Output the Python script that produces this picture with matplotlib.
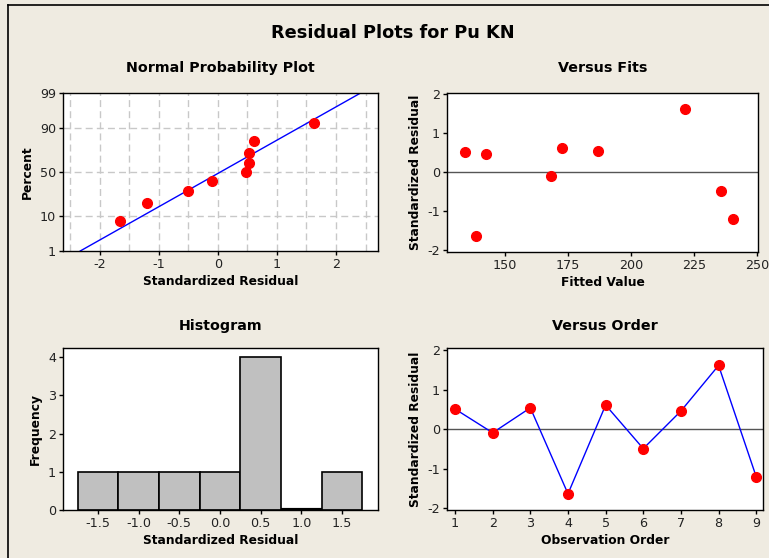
from statistics import NormalDist
import numpy as np
import matplotlib.pyplot as plt
from matplotlib.lines import Line2D

order = [1, 2, 3, 4, 5, 6, 7, 8, 9]
residuals = [0.51, -0.09, 0.54, -1.63, 0.61, -0.49, 0.46, 1.61, -1.20]
fitted = [134.2, 168.4, 187.0, 138.4, 172.6, 235.7, 142.7, 221.3, 240.4]

# normal probability plot: sorted residuals and their plotted percent
npp_resid = [-1.65, -1.20, -0.50, -0.09, 0.48, 0.52, 0.53, 0.62, 1.63]
npp_percent = [7.4, 18.1, 28.7, 39.4, 50.0, 60.6, 71.3, 81.9, 92.6]
line_mean = 0.045
line_sd = 1.02
pct_ticks = [1, 10, 50, 90, 99]

# histogram
hist_centers = [-1.5, -1.0, -0.5, 0.0, 0.5, 1.0, 1.5]
hist_counts = [1, 1, 1, 1, 4, 0, 1]

bg = '#EFEBE1'
red = '#FF0000'
blue = '#0000FF'
plt.rcParams['font.family'] = 'DejaVu Sans'
plt.rcParams['axes.unicode_minus'] = False

fig = plt.figure(figsize=(7.69, 5.58), dpi=100, facecolor=bg)
fig.add_artist(Line2D([8/769, 8/769], [0, 1 - 5/558], color='black', lw=1.2))
fig.add_artist(Line2D([8/769, 1], [1 - 5/558, 1 - 5/558], color='black', lw=1.2))
fig.text(0.511, 1 - 33/558, 'Residual Plots for Pu KN', ha='center', va='center',
         fontsize=12.8, fontweight='bold')

z = NormalDist().inv_cdf


def style(ax, title, xlabel, ylabel, pad):
    ax.set_facecolor('white')
    for s in ax.spines.values():
        s.set_color('black')
        s.set_linewidth(1.0)
    ax.tick_params(direction='out', length=3, width=1, labelsize=9.2, pad=2,
                   colors='black', labelcolor='#222222')
    ax.set_title(title, fontsize=10.3, fontweight='bold', pad=pad)
    ax.set_xlabel(xlabel, fontsize=8.8, fontweight='bold', labelpad=3)
    ax.set_ylabel(ylabel, fontsize=8.8, fontweight='bold', labelpad=4)


# Normal probability plot
ax1 = fig.add_axes([0.0819, 0.5502, 0.4096, 0.2832])
for gx in np.arange(-2.5, 3.0, 0.5):
    ax1.axvline(gx, color='#C8C8C8', ls=(0, (5, 3)), lw=1, zorder=0)
for p in [10, 50, 90]:
    ax1.axhline(z(p / 100), color='#C8C8C8', ls=(0, (5, 3)), lw=1, zorder=0)
lx = np.array([line_mean + line_sd * z(0.01), line_mean + line_sd * z(0.99)])
ax1.plot(lx, (lx - line_mean) / line_sd, color=blue, lw=1, zorder=2)
ax1.plot(npp_resid, [z(p / 100) for p in npp_percent], 'o', color=red,
         ms=7, mec=red, zorder=3)
ax1.set_xlim(-2.62, 2.71)
ax1.set_ylim(z(0.01), z(0.99))
ax1.set_yticks([z(p / 100) for p in pct_ticks])
ax1.set_yticklabels([str(p) for p in pct_ticks])
ax1.set_xticks([-2, -1, 0, 1, 2])
style(ax1, 'Normal Probability Plot', 'Standardized Residual', 'Percent', 15)

# Versus fits
ax2 = fig.add_axes([0.5813, 0.5484, 0.4044, 0.285])
ax2.axhline(0, color='#555555', lw=1, zorder=1)
ax2.plot(fitted, residuals, 'o', color=red, ms=7, mec=red, zorder=3)
ax2.set_xlim(127.1, 250.3)
ax2.set_ylim(-2.05, 2.03)
ax2.set_xticks([150, 175, 200, 225, 250])
ax2.set_yticks([-2, -1, 0, 1, 2])
style(ax2, 'Versus Fits', 'Fitted Value', 'Standardized Residual', 15)

# Histogram
ax3 = fig.add_axes([0.0819, 0.086, 0.4096, 0.2903])
ax3.bar(hist_centers, hist_counts, width=0.5, color='#C0C0C0',
        edgecolor='black', lw=1.2)
for c, n in zip(hist_centers, hist_counts):
    if n == 0:
        ax3.hlines(0, c - 0.25, c + 0.25, color='black', lw=3, zorder=4)
ax3.set_xlim(-1.93, 1.94)
ax3.set_ylim(0, 4.24)
ax3.set_xticks(hist_centers)
ax3.set_xticklabels(['%.1f' % c for c in hist_centers])
ax3.set_yticks([0, 1, 2, 3, 4])
style(ax3, 'Histogram', 'Standardized Residual', 'Frequency', 13)

# Versus order
ax4 = fig.add_axes([0.5813, 0.086, 0.4109, 0.2903])
ax4.axhline(0, color='#555555', lw=1, zorder=1)
ax4.plot(order, residuals, '-', color=blue, lw=1, zorder=2)
ax4.plot(order, residuals, 'o', color=red, ms=7, mec=red, zorder=3)
ax4.set_xlim(0.787, 9.18)
ax4.set_ylim(-2.04, 2.05)
ax4.set_xticks(order)
ax4.set_yticks([-2, -1, 0, 1, 2])
style(ax4, 'Versus Order', 'Observation Order', 'Standardized Residual', 13)

fig.savefig('out.png', dpi=100, facecolor=bg)
